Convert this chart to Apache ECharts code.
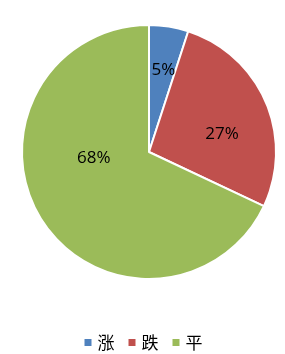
<!DOCTYPE html>
<html>
<head>
<meta charset="utf-8">
<script src="https://cdn.jsdelivr.net/npm/echarts@6/dist/echarts.min.js"></script>
<style>
  html, body { margin: 0; padding: 0; background: #fff; }
  #chart { width: 285px; height: 354px; }
</style>
</head>
<body>
<div id="chart"></div>
<script>
// data
const categories = ['涨', '跌', '平'];
const values = [5, 27, 68];
const colors = ['#4F81BD', '#C0504D', '#9BBB59'];
// nudge of each inside label from its default spot
const labelShift = [[4, -16], [12, 9], [1, -29]];

const chart = echarts.init(document.getElementById('chart'), null, { renderer: 'canvas' });

chart.setOption({
  backgroundColor: '#fff',
  animation: false,
  color: colors,
  legend: {
    data: categories,
    top: 329,
    left: 'center',
    icon: 'rect',
    itemWidth: 9,
    itemHeight: 9,
    itemGap: 12,
    textStyle: { fontFamily: 'Noto Sans CJK SC', fontSize: 17, color: '#000' }
  },
  series: [
    {
      type: 'pie',
      center: [149, 152],
      radius: [0, 127],
      startAngle: 90,
      clockwise: true,
      data: categories.map((name, i) => ({ name, value: values[i] })),
      itemStyle: { borderColor: '#fff', borderWidth: 2 },
      label: {
        position: 'inside',
        formatter: '{c}%',
        fontFamily: 'Open Sans',
        fontSize: 17,
        color: '#000'
      },
      labelLine: { show: false },
      labelLayout: (p) => ({ dx: labelShift[p.dataIndex][0], dy: labelShift[p.dataIndex][1] }),
      emphasis: { disabled: true }
    }
  ]
});
</script>
</body>
</html>
